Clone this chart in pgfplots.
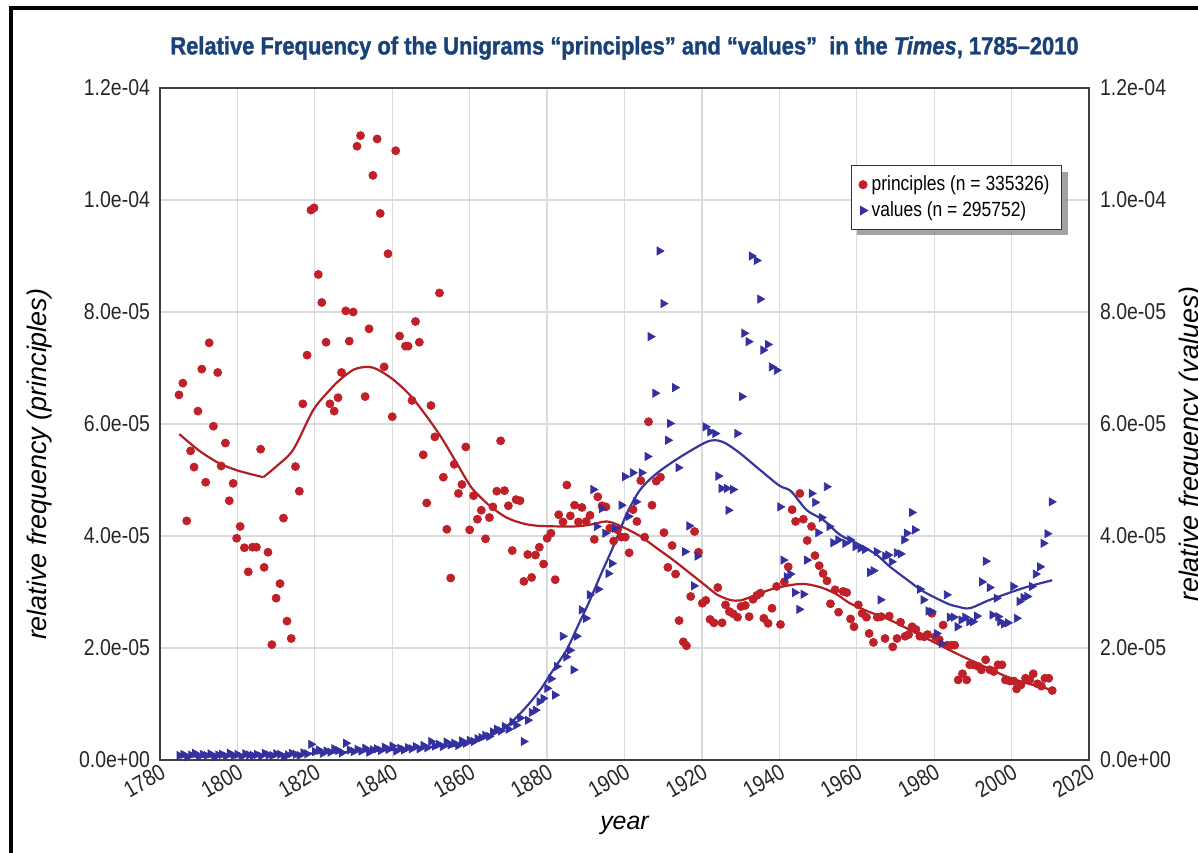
\documentclass[border=0pt]{standalone}
\usepackage{pgfplots}
\pgfplotsset{compat=1.18}
\usepackage{fontspec}
\setmainfont{Liberation Sans}[FakeStretch=0.85]
\newfontfamily\titlefont{Liberation Sans}[FakeStretch=0.88, BoldFeatures={FakeBold=1.4}, BoldItalicFeatures={FakeBold=1.4}]
\newfontfamily\labelfont{Liberation Sans}
\usetikzlibrary{shadows,calc}
\definecolor{pred}{RGB}{192,32,40}
\definecolor{pblue}{RGB}{52,48,160}
\definecolor{lred}{RGB}{178,30,36}
\definecolor{lblue}{RGB}{55,55,155}
\definecolor{ttl}{RGB}{26,66,120}
\definecolor{gridc}{RGB}{218,218,218}

\pgfplotstableread{
x y
1784.9 6.52
1785.9 6.73
1786.9 4.27
1787.9 5.52
1788.8 5.23
1789.8 6.23
1790.8 6.98
1791.8 4.96
1792.7 7.45
1793.8 5.96
1794.9 6.92
1795.8 5.25
1796.9 5.66
1797.9 4.63
1798.9 4.94
1799.8 3.96
1800.7 4.17
1801.8 3.79
1802.8 3.36
1803.9 3.80
1804.9 3.80
1806.0 5.55
1806.9 3.44
1807.9 3.71
1808.9 2.06
1810.0 2.89
1811.0 3.15
1811.9 4.32
1812.8 2.48
1813.9 2.17
1815.0 5.24
1816.0 4.80
1816.9 6.36
1818.0 7.23
1819.0 9.82
1819.8 9.86
1820.9 8.67
1821.8 8.17
1822.9 7.46
1823.9 6.36
1825.0 6.23
1826.0 6.47
1826.9 6.92
1828.0 8.02
1828.9 7.48
1829.9 8.00
1830.9 10.96
1831.8 11.15
1833.0 6.49
1834.0 7.70
1835.0 10.44
1836.1 11.09
1836.9 9.76
1837.9 7.02
1838.9 9.04
1840.0 6.13
1840.9 10.88
1841.9 7.57
1843.4 7.39
1844.1 7.39
1845.1 6.42
1846.0 7.83
1847.0 7.46
1848.0 5.45
1848.9 4.59
1850.0 6.33
1851.0 5.77
1852.2 8.34
1853.2 5.05
1854.1 4.12
1855.1 3.25
1856.0 5.28
1857.1 4.76
1858.0 4.92
1859.0 5.59
1860.0 4.11
1861.0 4.72
1862.0 4.30
1863.0 4.46
1864.1 3.95
1865.1 4.33
1866.0 4.52
1867.0 4.80
1868.0 5.70
1869.0 4.81
1870.0 4.54
1871.0 3.74
1872.0 4.65
1873.0 4.63
1874.0 3.19
1875.0 3.67
1876.0 3.26
1877.0 3.66
1878.0 3.80
1879.1 3.50
1880.0 3.96
1881.0 4.05
1882.1 3.22
1883.0 4.38
1884.1 4.25
1885.1 4.91
1886.0 4.36
1887.1 4.55
1888.1 4.25
1889.0 4.51
1890.1 4.26
1891.1 4.37
1892.2 3.94
1893.1 4.70
1894.2 4.54
1895.2 4.52
1896.2 4.14
1897.2 3.91
1898.2 4.11
1899.2 3.98
1900.2 3.98
1901.2 3.70
1902.2 4.47
1903.2 4.26
1904.2 4.99
1905.2 3.98
1906.2 6.04
1907.1 4.55
1908.2 4.98
1909.3 5.05
1910.2 4.06
1911.2 3.44
1912.3 3.83
1913.2 3.32
1914.1 2.49
1915.2 2.11
1916.0 2.04
1917.1 2.92
1918.1 4.08
1919.1 3.71
1920.1 2.80
1921.0 2.85
1922.1 2.51
1923.1 2.45
1924.1 3.08
1925.2 2.45
1926.1 2.77
1927.1 2.65
1928.1 2.61
1929.2 2.55
1930.1 2.74
1931.2 2.76
1932.2 2.56
1933.2 2.87
1934.2 2.94
1935.1 2.98
1936.0 2.53
1937.1 2.44
1938.1 2.71
1939.3 3.10
1940.3 2.42
1941.3 3.18
1942.3 3.45
1943.3 4.47
1944.2 4.26
1945.3 4.76
1946.2 4.30
1947.2 3.92
1948.3 4.17
1949.2 3.65
1950.3 3.47
1951.3 3.33
1952.3 3.20
1953.2 2.79
1954.4 3.04
1955.3 2.64
1956.5 3.01
1957.4 2.99
1958.4 2.52
1959.3 2.38
1960.4 2.77
1961.4 2.62
1962.5 2.55
1963.2 2.26
1964.3 2.10
1965.3 2.55
1966.3 2.56
1967.3 2.17
1968.4 2.57
1969.3 2.02
1970.4 2.17
1971.3 2.46
1972.5 2.21
1973.4 2.24
1974.3 2.38
1975.3 2.33
1976.3 2.21
1977.4 2.20
1978.3 2.24
1979.4 2.62
1980.3 2.20
1981.3 2.15
1982.3 2.41
1983.4 2.05
1984.5 2.05
1985.3 2.05
1986.2 1.43
1987.3 1.54
1988.4 1.43
1989.2 1.70
1990.2 1.70
1991.4 1.67
1992.2 1.61
1993.3 1.79
1994.4 1.61
1995.4 1.58
1996.5 1.70
1997.5 1.70
1998.4 1.43
1999.5 1.41
2000.6 1.41
2001.3 1.27
2002.4 1.34
2003.6 1.46
2004.7 1.43
2005.6 1.54
2006.7 1.36
2007.7 1.32
2008.6 1.46
2009.6 1.46
2010.5 1.24
}\principles

\pgfplotstableread{
x y
1785 0.08
1786 0.10
1787 0.06
1788 0.09
1789 0.12
1790 0.07
1791 0.10
1792 0.08
1793 0.11
1794 0.06
1795 0.09
1796 0.10
1797 0.07
1798 0.12
1799 0.08
1800 0.10
1801 0.06
1802 0.11
1803 0.09
1804 0.08
1805 0.10
1806 0.07
1807 0.12
1808 0.09
1809 0.08
1810 0.11
1811 0.10
1812 0.06
1813 0.09
1814 0.12
1815 0.10
1816 0.08
1817 0.13
1818 0.11
1819 0.28
1820 0.15
1821 0.18
1822 0.12
1823 0.16
1824 0.14
1825 0.20
1826 0.17
1827 0.13
1828 0.30
1829 0.18
1830 0.15
1831 0.19
1832 0.16
1833 0.21
1834 0.14
1835 0.18
1836 0.20
1837 0.17
1838 0.23
1839 0.19
1840 0.25
1841 0.16
1842 0.21
1843 0.18
1844 0.22
1845 0.20
1846 0.24
1847 0.20
1848 0.26
1849 0.22
1850 0.33
1851 0.25
1852 0.28
1853 0.24
1854 0.32
1855 0.27
1856 0.30
1857 0.26
1858 0.34
1859 0.30
1860 0.35
1861 0.33
1862 0.38
1863 0.40
1864 0.44
1865 0.42
1866 0.50
1867 0.55
1868 0.52
1869 0.60
1870 0.55
1871 0.68
1872 0.62
1873 0.75
1873.9 0.33
1875 0.71
1876 0.85
1877 0.89
1878 1.04
1879 1.10
1880 1.28
1881 1.45
1882 1.16
1882.5 1.67
1884 2.21
1884.9 1.84
1885.9 1.96
1886.8 1.61
1887.6 2.21
1888.9 2.68
1890 2.53
1891 2.95
1891.9 4.83
1892.8 4.17
1893.2 3.05
1894.1 4.49
1895 4.05
1895.8 3.33
1896.7 3.51
1897.5 4.14
1899.2 4.55
1900.1 5.06
1901 4.35
1902.1 5.13
1903 4.61
1904.4 5.13
1905.9 5.42
1906.7 7.56
1907.9 6.55
1909.0 9.09
1910.0 8.15
1911.2 5.71
1911.7 6.01
1913.0 6.65
1913.9 5.22
1915.6 3.72
1916.7 4.18
1917.9 3.11
1918.8 3.64
1920.9 5.95
1922.1 5.86
1923.4 5.83
1924.2 5.07
1925.0 4.85
1926.4 4.85
1926.8 4.46
1928.0 4.83
1929.1 5.83
1930.3 6.49
1930.9 7.62
1932.0 7.47
1932.8 9.00
1934.1 8.92
1935.0 8.23
1935.8 7.32
1937.0 7.42
1938.0 7.02
1939.3 6.96
1940.2 4.52
1941.0 3.57
1941.9 3.27
1942.8 3.32
1944.0 2.99
1945.1 2.69
1946.2 2.96
1947.1 3.57
1948.3 4.76
1949.2 4.60
1950.0 4.06
1950.9 4.33
1952.2 4.88
1952.9 4.17
1953.9 3.88
1955.2 3.93
1957.0 3.87
1958.3 3.93
1959.6 3.81
1960.9 3.78
1962.1 3.76
1963.4 3.35
1964.3 3.38
1965.1 3.72
1966.1 2.86
1967.3 3.64
1968.1 3.66
1969.0 3.54
1970.3 3.70
1971.3 3.68
1972.2 3.93
1972.9 4.05
1974.2 4.42
1975.0 4.11
1976.3 3.05
1977.2 2.86
1978.5 2.66
1979.3 2.65
1980.6 2.26
1981.9 2.08
1983.2 2.95
1984 2.55
1985 2.55
1986 2.38
1987 2.50
1988 2.55
1989 2.47
1990 2.47
1991 2.57
1992.3 3.18
1993.3 3.55
1994.3 3.08
1995 2.59
1996.1 2.89
1996.5 2.56
1997 2.47
1998 2.43
1999 2.45
2000.4 3.10
2001.3 2.53
2002 2.83
2003 2.90
2004 2.92
2005.2 3.10
2006.2 3.32
2007.3 3.45
2008.2 3.87
2009.2 4.04
2010.3 4.61
}\values

\pgfplotsset{
  common/.style={
    scale only axis, width=464.5bp, height=336bp,
    xmin=1780, xmax=2020, ymin=0, ymax=12,
    ytick={0,2,4,6,8,10,12},
    yticklabels={0.0e+00,2.0e-05,4.0e-05,6.0e-05,8.0e-05,1.0e-04,1.2e-04},
    major tick length=0pt,
    tick label style={font=\fontsize{11.5}{13}\selectfont, text=black!85},
    axis line style={black!75, line width=0.9bp},
  }
}

\begin{document}
\begin{tikzpicture}
\begin{axis}[
  common,
  xtick={1780,1800,...,2020},
  xticklabels={1780,1800,1820,1840,1860,1880,1900,1920,1940,1960,1980,2000,2020},
  xticklabel style={rotate=30, anchor=north east, inner sep=1bp},
  yticklabel style={xshift=-1.5bp},
  grid=major,
  major grid style={gridc, line width=0.6bp},
  xlabel={\labelfont\itshape year},
  xlabel style={font=\fontsize{12.5}{14}\selectfont, at={(axis description cs:0.5,-0.098)}, anchor=center},
  ylabel={\labelfont\itshape relative frequency (principles)},
  ylabel style={font=\fontsize{13.5}{15}\selectfont, at={(axis description cs:-0.13,0.44)}, anchor=center},
  title={\titlefont\bfseries Relative Frequency of the Unigrams “principles” and “values”\ \ in the \textit{Times}, 1785–2010},
  title style={font=\fontsize{12.5}{14}\selectfont, text=ttl, at={(axis description cs:0.5,1)}, anchor=center, yshift=14bp},
  legend style={at={(0.971,0.885)}, anchor=north east, font=\fontsize{10.3}{12}\selectfont,
    draw=black!80, line width=0.5bp, fill=white, inner xsep=4bp, inner ysep=3bp,
    drop shadow={shadow xshift=3bp, shadow yshift=-3bp, fill=black!45, opacity=0.8},
    row sep=0bp},
  legend cell align=left,
  clip=false,
]
\coordinate (ll) at (rel axis cs:0,0);
\addplot[only marks, mark=*, mark size=2bp, color=pred, mark options={fill=pred, draw=pred}] table[x=x,y=y] {\principles};
\addlegendentry{principles (n = 335326)}
\addplot[only marks, mark=triangle*, mark size=2.3bp, color=pblue, mark options={fill=pblue, draw=pblue, rotate=-90}] table[x=x,y=y] {\values};
\addlegendentry{values (n = 295752)}
\addplot[forget plot, smooth, lred, line width=1.1bp] coordinates {
(1785,5.82) (1790,5.53) (1795,5.31) (1800,5.17) (1806.7,5.05)};
\addplot[forget plot, smooth, lred, line width=1.1bp] coordinates {
(1806.7,5.05) (1810,5.24) (1814.4,5.54) (1819.6,6.25) (1823.9,6.61) (1826.5,6.79) (1830,6.97) (1833.4,7.02) (1836,6.98) (1840.3,6.79) (1845.4,6.45) (1852.3,5.80) (1859.2,5.0) (1861,4.82) (1865,4.55) (1869.5,4.33) (1874,4.22) (1878.2,4.18) (1886.8,4.17) (1891,4.20) (1895.4,4.26) (1898.9,4.18) (1904,4.0) (1908,3.80) (1912.6,3.57) (1917,3.33) (1921.2,3.10) (1924,2.95) (1927.2,2.86) (1930,2.85) (1934.1,2.95) (1938,3.05) (1943.5,3.13) (1947,3.14) (1951.3,3.07) (1955,2.95) (1958.2,2.80) (1963,2.65) (1968.6,2.50) (1977.2,2.20) (1985.8,1.90) (1992,1.70) (1998.7,1.49) (2004,1.37) (2010.5,1.25)};
\addplot[forget plot, smooth, lblue, line width=1.1bp] coordinates {
(1785,0.06) (1800,0.07) (1820,0.12) (1840,0.18) (1852.3,0.25) (1856,0.25) (1861,0.33) (1865,0.42) (1869.5,0.60) (1874,0.90) (1878.2,1.25) (1881.5,1.60) (1885,1.96) (1888,2.40) (1891.1,2.86) (1894,3.33) (1897.1,3.81) (1900.6,4.40) (1904,4.82) (1908,5.10) (1912.6,5.33) (1917,5.52) (1921.2,5.68) (1923.5,5.71) (1926,5.66) (1929.8,5.48) (1935,5.18) (1940,4.90) (1943,4.80) (1947.1,4.46) (1951.3,4.29) (1955.7,4.02) (1960,3.87) (1965,3.67) (1968.6,3.45) (1973,3.22) (1977.2,3.01) (1983.2,2.80) (1986,2.74) (1989.2,2.71) (1994.4,2.86) (2003,3.07) (2010.5,3.21)};
\end{axis}
\begin{axis}[
  common,
  at={(ll)}, anchor=south west,
  axis x line=none, axis y line*=right,
  yticklabel style={xshift=2bp},
  ylabel={\labelfont\itshape relative frequency (values)},
  ylabel style={font=\fontsize{13.5}{15}\selectfont, at={(axis description cs:1.11,0.47)}, anchor=center, rotate=0},
]
\end{axis}
\pgfresetboundingbox
\useasboundingbox ($(ll)+(-80bp,-46.5bp)$) rectangle ($(ll)+(519bp,380bp)$);
\draw[line width=1.6bp] ($(ll)+(-74.5bp,-50bp)$) -- ($(ll)+(-74.5bp,376bp)$) -- ($(ll)+(525bp,376bp)$);
\end{tikzpicture}
\end{document}
